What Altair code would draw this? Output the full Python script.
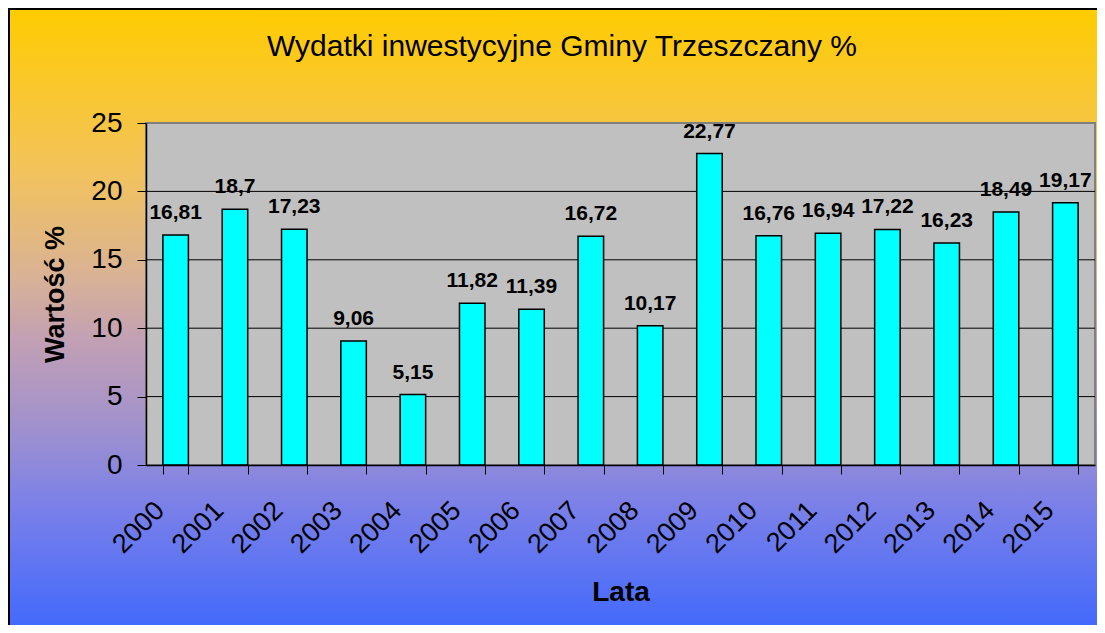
import altair as alt
import pandas as pd

# ---- data ----
years = ["2000", "2001", "2002", "2003", "2004", "2005", "2006", "2007",
         "2008", "2009", "2010", "2011", "2012", "2013", "2014", "2015"]
values = [16.81, 18.7, 17.23, 9.06, 5.15, 11.82, 11.39, 16.72,
          10.17, 22.77, 16.76, 16.94, 17.22, 16.23, 18.49, 19.17]
labels = ["16,81", "18,7", "17,23", "9,06", "5,15", "11,82", "11,39", "16,72",
          "10,17", "22,77", "16,76", "16,94", "17,22", "16,23", "18,49", "19,17"]
y_ticks = [0, 5, 10, 15, 20, 25]
grid_values = [5, 10, 15, 20]

TITLE = "Wydatki inwestycyjne Gminy Trzeszczany %"
Y_TITLE = "Wartość %"
X_TITLE = "Lata"
FONT = "Liberation Sans"

W, H = 949, 342
PAD_L, PAD_T, PAD_R, PAD_B = 138, 115, 2, 160

df = pd.DataFrame({"rok": years, "wartosc": values, "etykieta": labels})
grid_df = pd.DataFrame({"wartosc": grid_values})
one = pd.DataFrame({"a": [0]})
title_df = pd.DataFrame({"t": [TITLE]})

gradient = alt.Gradient(
    gradient="linear",
    stops=[
        alt.GradientStop(color="#FFCC00", offset=0),
        alt.GradientStop(color="#F3C35A", offset=0.25),
        alt.GradientStop(color="#D9B295", offset=0.42),
        alt.GradientStop(color="#C2A0B4", offset=0.52),
        alt.GradientStop(color="#A292CC", offset=0.65),
        alt.GradientStop(color="#7B80E8", offset=0.78),
        alt.GradientStop(color="#3A66FF", offset=1),
    ],
    x1=0, x2=0, y1=0, y2=1,
)

x_scale = alt.Scale(paddingInner=0.57, paddingOuter=0.285)
y_scale = alt.Scale(domain=[0, 25], nice=False)

x_axis = alt.Axis(
    labelAngle=-45, labelAlign="right", labelBaseline="middle",
    labelFont=FONT, labelFontSize=27, labelColor="black",
    labelOffset=-16, labelPadding=32,
    tickBand="extent", tickColor="black", tickSize=9, tickWidth=1,
    domainColor="black", domainWidth=1.5,
    titleFont=FONT, titleFontSize=28, titleFontWeight="bold", titleColor="black",
    titleX=W / 2, titleY=135, titleBaseline="alphabetic", titleAlign="center",
    grid=False, zindex=1,
)
y_axis = alt.Axis(
    values=y_ticks,
    labelFont=FONT, labelFontSize=28, labelColor="black", labelPadding=15,
    tickColor="black", tickSize=9, tickWidth=1,
    domainColor="black", domainWidth=1.5,
    titleFont=FONT, titleFontSize=27, titleFontWeight="bold", titleColor="black",
    titleX=-91, titleY=H / 2, titleAngle=-90, titleBaseline="middle", titleAlign="center",
    grid=False, zindex=1,
)

background = alt.Chart(one).mark_rect(
    fill=gradient, stroke="black", strokeWidth=2
).encode(
    x=alt.value(-PAD_L + 1), x2=alt.value(W + PAD_R + 20),
    y=alt.value(-PAD_T + 1), y2=alt.value(H + PAD_B + 20),
)

chart_title = alt.Chart(title_df).mark_text(
    font=FONT, fontSize=30, fontWeight="normal", color="black",
    align="center", baseline="alphabetic",
).encode(
    text="t:N", x=alt.value(416), y=alt.value(-67),
)

plot_area = alt.Chart(one).mark_rect(
    fill="#C0C0C0", stroke="#808080", strokeWidth=2
).encode(
    x=alt.value(0), x2=alt.value(W), y=alt.value(0), y2=alt.value(H),
)

grid = alt.Chart(grid_df).mark_rule(color="black", strokeWidth=1).encode(
    y=alt.Y("wartosc:Q", scale=y_scale, axis=y_axis, title=Y_TITLE),
    x=alt.value(0), x2=alt.value(W),
)

bars = alt.Chart(df).mark_bar(
    color="#00FFFF", stroke="black", strokeWidth=1.5
).encode(
    x=alt.X("rok:N", scale=x_scale, axis=x_axis, title=X_TITLE, sort=years),
    y=alt.Y("wartosc:Q", scale=y_scale, axis=y_axis, title=Y_TITLE),
)

texts = alt.Chart(df).mark_text(
    font=FONT, fontSize=21, fontWeight="bold", color="black",
    baseline="alphabetic", align="center", dy=-16,
).encode(
    x=alt.X("rok:N", sort=years, title=X_TITLE),
    y=alt.Y("wartosc:Q", title=Y_TITLE),
    text="etykieta:N",
)

chart = alt.layer(background, chart_title, plot_area, grid, bars, texts).properties(
    width=W, height=H,
    autosize=alt.AutoSizeParams(type="none"),
    padding={"left": PAD_L, "top": PAD_T, "right": PAD_R, "bottom": PAD_B},
).configure_view(stroke=None)

chart.save("out.html", embed_options={"renderer": "svg", "actions": False})
